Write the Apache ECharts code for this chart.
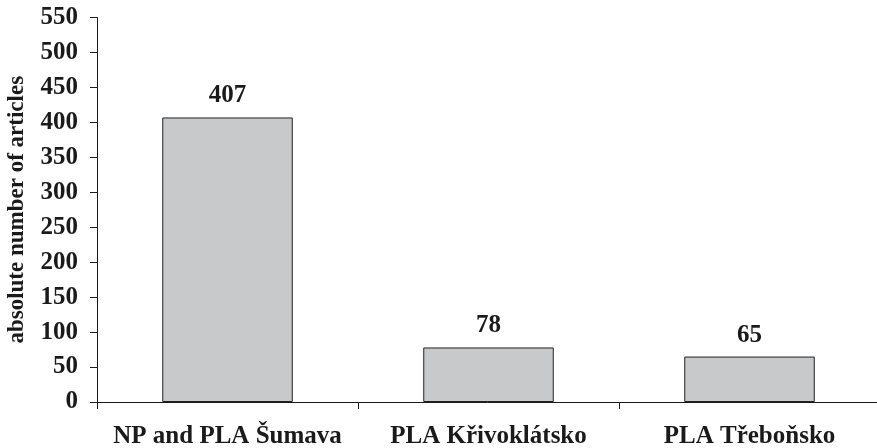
<!DOCTYPE html>
<html>
<head>
<meta charset="utf-8">
<script src="https://cdn.jsdelivr.net/npm/echarts@6/dist/echarts.min.js"></script>
<style>
  html, body { margin: 0; padding: 0; background: #fff; }
  #chart { width: 877px; height: 448px; }
</style>
</head>
<body>
<div id="chart"></div>
<script>
// Number of articles per protected area
const categories = ['NP and PLA Šumava', 'PLA Křivoklátsko', 'PLA Třeboňsko'];
const articleCounts = [407, 78, 65];
const yTicks = { min: 0, max: 550, interval: 50 };

const font = 'Liberation Serif, Times New Roman, serif';
const ink = '#1a1a1a';

const chart = echarts.init(document.getElementById('chart'), null, { renderer: 'canvas' });
chart.setOption({
  backgroundColor: '#fff',
  animation: false,
  grid: {
    left: 97, top: 17.5, width: 783, height: 384.5,
    containLabel: false, outerBoundsMode: 'none'
  },
  xAxis: {
    type: 'category',
    data: categories,
    axisLine: { show: true, lineStyle: { color: ink, width: 1 } },
    axisTick: { show: true, alignWithLabel: false, length: 7, lineStyle: { color: ink } },
    axisLabel: {
      color: ink, fontFamily: font, fontWeight: 'bold', fontSize: 25,
      margin: 22, interval: 0
    }
  },
  yAxis: {
    type: 'value',
    min: yTicks.min, max: yTicks.max, interval: yTicks.interval,
    name: 'absolute number of articles',
    nameLocation: 'middle',
    nameGap: 68,
    nameTextStyle: { color: ink, fontFamily: font, fontWeight: 'bold', fontSize: 23 },
    axisLine: { show: true, lineStyle: { color: ink, width: 1 } },
    axisTick: { show: true, length: 7, lineStyle: { color: ink } },
    splitLine: { show: false },
    axisLabel: { color: ink, fontFamily: font, fontWeight: 'bold', fontSize: 25, margin: 19 }
  },
  series: [{
    type: 'bar',
    data: articleCounts,
    barWidth: '50%',
    itemStyle: { color: '#c8c9cb', borderColor: '#222', borderWidth: 1 },
    label: {
      show: true, position: 'top', distance: 9,
      color: ink, fontFamily: font, fontWeight: 'bold', fontSize: 25
    }
  }]
});
</script>
</body>
</html>
